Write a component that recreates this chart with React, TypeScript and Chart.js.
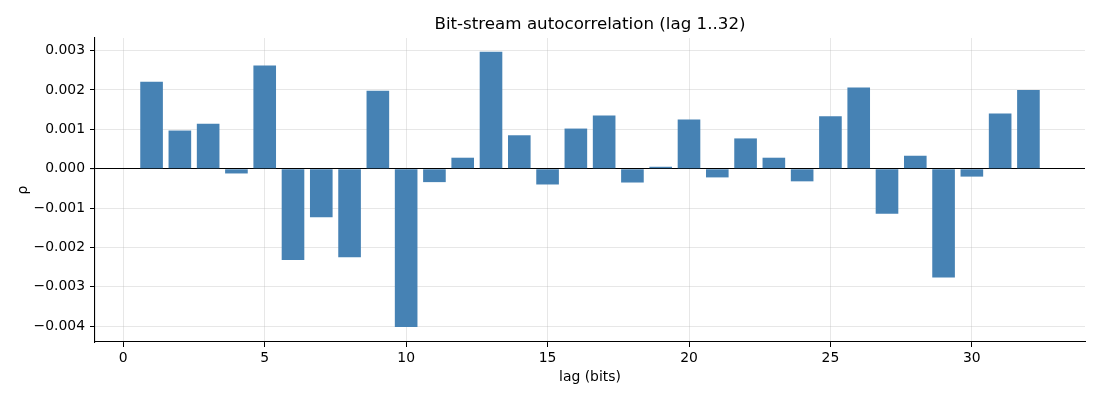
import React, { useEffect, useRef } from 'react';
import Chart from 'chart.js/auto';

const lags: number[] = [
  1, 2, 3, 4, 5, 6, 7, 8, 9, 10, 11, 12, 13, 14, 15, 16,
  17, 18, 19, 20, 21, 22, 23, 24, 25, 26, 27, 28, 29, 30, 31, 32,
];
const rho: number[] = [
  0.00221, 0.00097, 0.00114, -0.00012, 0.00262, -0.00232, -0.00123, -0.00225,
  0.00198, -0.00402, -0.00034, 0.00028, 0.00297, 0.00085, -0.0004, 0.00102,
  0.00135, -0.00035, 0.00005, 0.00125, -0.00022, 0.00077, 0.00028, -0.00032,
  0.00133, 0.00206, -0.00114, 0.00033, -0.00276, -0.0002, 0.0014, 0.002,
];
const xTicks: number[] = [0, 5, 10, 15, 20, 25, 30];
const yTicks: number[] = [-0.004, -0.003, -0.002, -0.001, 0, 0.001, 0.002, 0.003];
const titleText = 'Bit-stream autocorrelation (lag 1..32)';

const FONT = "'DejaVu Sans', sans-serif";

// title centred over the plot area (like matplotlib), not over the whole canvas
const axesTitle = {
  id: 'axesTitle',
  afterDraw(chart: any) {
    const { ctx, chartArea } = chart;
    ctx.save();
    ctx.font = `16.7px ${FONT}`;
    ctx.fillStyle = '#000';
    ctx.textAlign = 'center';
    ctx.textBaseline = 'alphabetic';
    ctx.fillText(titleText, (chartArea.left + chartArea.right) / 2, chartArea.top - 8.6);
    ctx.restore();
  },
};

const App: React.FC = () => {
  const chartRef = useRef<HTMLCanvasElement>(null);

  useEffect(() => {
    if (!chartRef.current) return;
    const ctx = chartRef.current.getContext('2d');
    if (!ctx) return;

    const chart = new Chart(ctx, {
      type: 'bar',
      data: {
        datasets: [{
          data: lags.map((l, i) => ({ x: l, y: rho[i] })),
          backgroundColor: '#4682b4',
          borderWidth: 0,
          barPercentage: 0.8,
          categoryPercentage: 1.0,
        }],
      },
      options: {
        animation: false,
        responsive: true,
        maintainAspectRatio: false,
        layout: { padding: { left: 0, right: 15, top: 38, bottom: 0 } },
        plugins: {
          legend: { display: false },
          tooltip: { enabled: false },
          title: { display: false },
        },
        scales: {
          x: {
            type: 'linear',
            min: -1,
            max: 34,
            offset: false,
            z: 1,
            afterBuildTicks: (scale: any) => {
              scale.ticks = xTicks.map((v) => ({ value: v }));
            },
            afterFit: (scale: any) => {
              scale.height = 58;
            },
            grid: {
              offset: false,
              color: 'rgba(176,176,176,0.3)',
              tickColor: '#000',
              tickLength: 5,
              lineWidth: 1,
            },
            border: { display: true, color: '#000', width: 1.1 },
            ticks: {
              color: '#000',
              font: { family: FONT, size: 13.9 },
              padding: 3,
              maxRotation: 0,
            },
            title: {
              display: true,
              text: 'lag (bits)',
              color: '#000',
              font: { family: FONT, size: 13.9 },
              padding: { top: 0, bottom: 14.7 },
            },
          },
          y: {
            type: 'linear',
            min: -0.0044,
            max: 0.00332,
            z: 1,
            afterBuildTicks: (scale: any) => {
              scale.ticks = yTicks.map((v) => ({ value: v }));
            },
            afterFit: (scale: any) => {
              scale.width = 95;
            },
            grid: {
              color: (c: any) => (c.tick && Math.abs(c.tick.value) < 1e-9 ? '#000' : 'rgba(176,176,176,0.3)'),
              lineWidth: (c: any) => (c.tick && Math.abs(c.tick.value) < 1e-9 ? 1.1 : 1),
              tickColor: '#000',
              tickLength: 5,
            },
            border: { display: true, color: '#000', width: 1.1 },
            ticks: {
              color: '#000',
              font: { family: FONT, size: 13.9 },
              padding: 5,
              callback: (v: any) => Number(v).toFixed(3).replace('-', '\u2212'),
            },
            title: {
              display: true,
              text: 'ρ',
              color: '#000',
              font: { family: FONT, size: 13.9 },
              padding: { top: 15.5, bottom: 0 },
            },
          },
        },
      },
      plugins: [axesTitle],
    });

    return () => {
      chart.destroy();
    };
  }, []);

  return (
    <div style={{ position: 'absolute', left: 0, top: 0, width: 1100, height: 400, background: '#fff' }}>
      <canvas ref={chartRef}></canvas>
    </div>
  );
};

export default App;
